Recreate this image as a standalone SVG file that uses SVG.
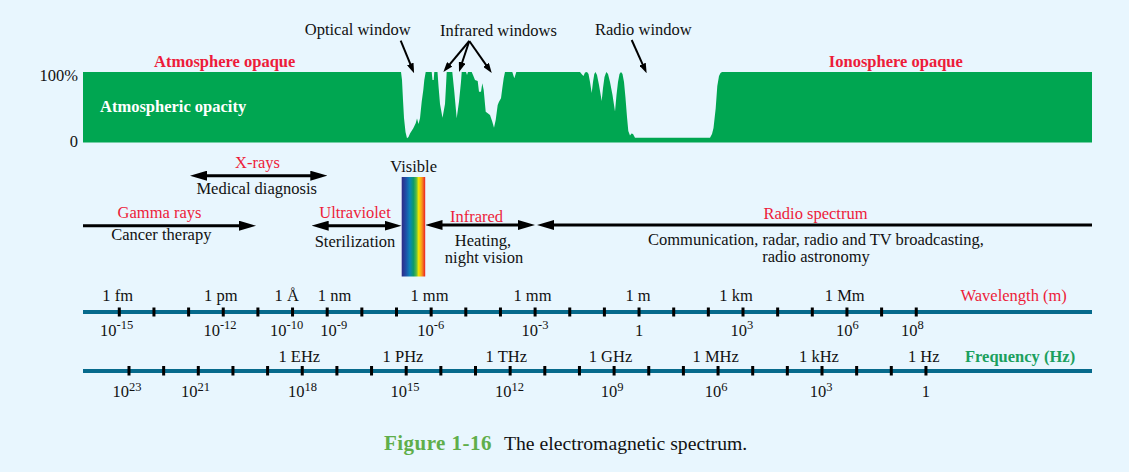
<svg xmlns="http://www.w3.org/2000/svg" width="1129" height="472" viewBox="0 0 1129 472">
<style>
text{font-family:"Liberation Serif","Times New Roman",serif;font-size:16.5px;fill:#111}
.red{fill:#ED1C3A}
.bred{fill:#ED1C3A;font-weight:bold}
.mid{text-anchor:middle}
.sup{font-size:12.5px}
.pointer{stroke:#000;stroke-width:2;fill:none}
.arrow{stroke:#000;stroke-width:3;fill:none}
.axis{stroke:#066A8C;stroke-width:4}
.tick{stroke:#000;stroke-width:3;fill:none}
</style>
<defs>
<marker id="ph" viewBox="0 0 10 7" markerWidth="10" markerHeight="7" refX="4" refY="3.5" orient="auto" markerUnits="userSpaceOnUse"><path d="M0,0 L10,3.5 L0,7 z" fill="#000"/></marker>
<marker id="ah" viewBox="0 0 17 10" markerWidth="17" markerHeight="10" refX="8" refY="5" orient="auto-start-reverse" markerUnits="userSpaceOnUse"><path d="M0,0 L17,5 L0,10 z" fill="#000"/></marker>
<linearGradient id="vis" x1="0" y1="0" x2="1" y2="0">
<stop offset="0" stop-color="#2E2A86"/>
<stop offset="0.18" stop-color="#1F4FA8"/>
<stop offset="0.35" stop-color="#0A86B8"/>
<stop offset="0.5" stop-color="#0E9A6A"/>
<stop offset="0.62" stop-color="#56B947"/>
<stop offset="0.72" stop-color="#F2E600"/>
<stop offset="0.86" stop-color="#F7941D"/>
<stop offset="1" stop-color="#EC1C24"/>
</linearGradient>
</defs>
<rect width="1129" height="472" fill="#E8F6FE"/>

<g id="opacity-chart">
<path fill="#00A651" d="M83,72 L401,72 L402,80 L403,100 L404,118 L405.5,132 L407,138.3 L408.5,137 L410,133.5 L413.3,128.3 L415.7,123.3 L417,118.5 L418.5,124 L420,118.3 L421.7,101.7 L423.3,90 L424.3,80 L425.7,72 L431.7,72 L432.5,80 L433.7,80 L434.3,72 L437.5,72 L438.5,86 L440,104 L442.5,117.7 L445,104 L446,86 L446.7,72 L452.3,72 L454.3,91.7 L456.7,118.3 L459,101.7 L461,81.7 L461.7,72 L466,72 L467,75 L468,72 L471.7,72 L473,75 L475,80 L477.7,81 L479,91.7 L481,91.7 L482.3,83.3 L483.7,90 L485.7,111.7 L487.7,113.3 L490,115 L492.3,121.7 L494,127.7 L495.7,120 L497.7,105 L499,101.7 L501,98.3 L502.3,88.3 L503.7,78.3 L505,72 L512.3,72 L514.3,78.3 L516.3,72 L580,72 L582,74.5 L583.5,76 L585,72.5 L587,72 L588.5,74 L590,82 L591.7,93 L593,82 L594.3,74 L595.5,72 L597,75 L599,85 L601.7,101 L603,88 L604.5,77 L606.3,72 L608,74 L610,82 L612.5,95 L615,111.5 L616.5,95 L618,82 L619.5,74 L621,72 L622.5,74 L624,82 L625.5,98 L627,117 L628.3,131 L630,135.5 L631.5,133.5 L633,134 L635,137.8 L710,137.8 L712,134 L713.5,128 L715.7,108.3 L717.3,86 L719,76 L720.5,73 L722,72 L1092,72 L1092,142.5 L83,142.5 Z"/>
<text x="78" y="80.5" text-anchor="end">100%</text>
<text x="78" y="147" text-anchor="end">0</text>
<text x="100" y="111.7" style="fill:#fff;font-weight:bold">Atmospheric opacity</text>
<text class="bred mid" x="224.7" y="66.7">Atmosphere opaque</text>
<text class="bred mid" x="895.8" y="66.7">Ionosphere opaque</text>
</g>

<g id="optical-window"><text class="mid" x="357.7" y="35.3">Optical window</text></g>
<g id="infrared-windows"><text class="mid" x="498.5" y="35.5">Infrared windows</text></g>
<g id="radio-window"><text class="mid" x="643.3" y="34.5">Radio window</text></g>

<g id="xrays"><text class="red mid" x="257.5" y="168">X-rays</text><text class="mid" x="256.7" y="194.3">Medical diagnosis</text></g>
<g id="gamma"><text class="red mid" x="159.5" y="218.3">Gamma rays</text><text class="mid" x="161.3" y="240">Cancer therapy</text></g>
<g id="ultraviolet"><text class="red mid" x="355" y="217.7">Ultraviolet</text><text class="mid" x="355" y="246.7">Sterilization</text></g>
<g id="visible"><text class="mid" x="413.7" y="172">Visible</text><rect x="401.7" y="177" width="23.5" height="99.5" fill="url(#vis)"/></g>
<g id="infrared"><text class="red mid" x="476.5" y="221.5">Infrared</text><text class="mid" x="483" y="245.5">Heating,</text><text class="mid" x="484" y="262.5">night vision</text></g>
<g id="radio"><text class="red mid" x="815.5" y="219">Radio spectrum</text><text class="mid" x="816" y="244.5">Communication, radar, radio and TV broadcasting,</text><text class="mid" x="816" y="261.5">radio astronomy</text></g>

<g id="connectors">
<line class="pointer" x1="400.7" y1="40.7" x2="411.8" y2="67.7" marker-end="url(#ph)"/>
<line class="pointer" x1="469.3" y1="41" x2="447.2" y2="67.4" marker-end="url(#ph)"/>
<line class="pointer" x1="469.3" y1="41" x2="460.9" y2="66.3" marker-end="url(#ph)"/>
<line class="pointer" x1="469.3" y1="41" x2="488.3" y2="68.1" marker-end="url(#ph)"/>
<line class="pointer" x1="631.7" y1="40" x2="644.2" y2="67.8" marker-end="url(#ph)"/>
<line class="arrow" x1="83" y1="225.7" x2="247" y2="225.7" marker-end="url(#ah)"/>
<line class="arrow" x1="199" y1="175.7" x2="318.3" y2="175.7" marker-start="url(#ah)" marker-end="url(#ah)"/>
<line class="arrow" x1="320.7" y1="225.7" x2="392.5" y2="225.7" marker-start="url(#ah)" marker-end="url(#ah)"/>
<line class="arrow" x1="434.5" y1="225" x2="526" y2="225" marker-start="url(#ah)" marker-end="url(#ah)"/>
<line class="arrow" x1="546" y1="225" x2="1092" y2="225" marker-start="url(#ah)"/>
</g>

<g id="wavelength-axis">
<line class="axis" x1="83" y1="312" x2="1092" y2="312"/>
<path class="tick" d="M119.3,307.5v9M153.95,307.5v9M188.6,307.5v9M223.25,307.5v9M257.9,307.5v9M292.55,307.5v9M327.2,307.5v9M361.85,307.5v9M396.5,307.5v9M431.15,307.5v9M465.8,307.5v9M500.45,307.5v9M535.1,307.5v9M569.75,307.5v9M604.4,307.5v9M639.05,307.5v9M673.7,307.5v9M708.35,307.5v9M743,307.5v9M777.65,307.5v9M812.3,307.5v9M846.95,307.5v9M881.6,307.5v9M916.25,307.5v9"/>
<text class="mid" x="117.7" y="300.5">1 fm</text>
<text class="mid" x="220.8" y="300.5">1 pm</text>
<text class="mid" x="286.7" y="300.5">1 Å</text>
<text class="mid" x="334.5" y="300.5">1 nm</text>
<text class="mid" x="429.5" y="300.5">1 mm</text>
<text class="mid" x="532.5" y="300.5">1 mm</text>
<text class="mid" x="638" y="300.5">1 m</text>
<text class="mid" x="736" y="300.5">1 km</text>
<text class="mid" x="844.7" y="300.5">1 Mm</text>
<text class="red" x="960.5" y="300.5">Wavelength (m)</text>
<text class="mid" x="116.7" y="335.5">10<tspan class="sup" dy="-6.5">-15</tspan></text>
<text class="mid" x="220" y="335.5">10<tspan class="sup" dy="-6.5">-12</tspan></text>
<text class="mid" x="286.7" y="335.5">10<tspan class="sup" dy="-6.5">-10</tspan></text>
<text class="mid" x="333.7" y="335.5">10<tspan class="sup" dy="-6.5">-9</tspan></text>
<text class="mid" x="430.7" y="335.5">10<tspan class="sup" dy="-6.5">-6</tspan></text>
<text class="mid" x="535" y="335.5">10<tspan class="sup" dy="-6.5">-3</tspan></text>
<text class="mid" x="639" y="335.5">1</text>
<text class="mid" x="741.8" y="335.5">10<tspan class="sup" dy="-6.5">3</tspan></text>
<text class="mid" x="847.3" y="335.5">10<tspan class="sup" dy="-6.5">6</tspan></text>
<text class="mid" x="912.3" y="335.5">10<tspan class="sup" dy="-6.5">8</tspan></text>
</g>

<g id="frequency-axis">
<line class="axis" x1="83" y1="371" x2="1092" y2="371"/>
<path class="tick" d="M129,366v9.5M163.65,366v9.5M198.3,366v9.5M232.95,366v9.5M267.6,366v9.5M302.25,366v9.5M336.9,366v9.5M371.55,366v9.5M406.2,366v9.5M440.85,366v9.5M475.5,366v9.5M510.15,366v9.5M544.8,366v9.5M579.45,366v9.5M614.1,366v9.5M648.75,366v9.5M683.4,366v9.5M718.05,366v9.5M752.7,366v9.5M787.35,366v9.5M822,366v9.5M856.65,366v9.5M891.3,366v9.5M925.95,366v9.5"/>
<text class="mid" x="299.3" y="361.5">1 EHz</text>
<text class="mid" x="403" y="361.5">1 PHz</text>
<text class="mid" x="506.3" y="361.5">1 THz</text>
<text class="mid" x="610.5" y="361.5">1 GHz</text>
<text class="mid" x="715.7" y="361.5">1 MHz</text>
<text class="mid" x="819" y="361.5">1 kHz</text>
<text class="mid" x="923.8" y="361.5">1 Hz</text>
<text x="965" y="361.5" style="fill:#1BA05E;font-weight:bold">Frequency (Hz)</text>
<text class="mid" x="127" y="397">10<tspan class="sup" dy="-6.5">23</tspan></text>
<text class="mid" x="195.5" y="397">10<tspan class="sup" dy="-6.5">21</tspan></text>
<text class="mid" x="302.5" y="397">10<tspan class="sup" dy="-6.5">18</tspan></text>
<text class="mid" x="405" y="397">10<tspan class="sup" dy="-6.5">15</tspan></text>
<text class="mid" x="509.5" y="397">10<tspan class="sup" dy="-6.5">12</tspan></text>
<text class="mid" x="612" y="397">10<tspan class="sup" dy="-6.5">9</tspan></text>
<text class="mid" x="716" y="397">10<tspan class="sup" dy="-6.5">6</tspan></text>
<text class="mid" x="821" y="397">10<tspan class="sup" dy="-6.5">3</tspan></text>
<text class="mid" x="925.8" y="397">1</text>
</g>

<g id="caption">
<text x="384" y="449.5" style="fill:#5FAE4A;font-weight:bold;font-size:21px" textLength="107.5">Figure 1-16</text>
<text x="504" y="449.5" style="font-size:19.7px">The electromagnetic spectrum.</text>
</g>
</svg>
